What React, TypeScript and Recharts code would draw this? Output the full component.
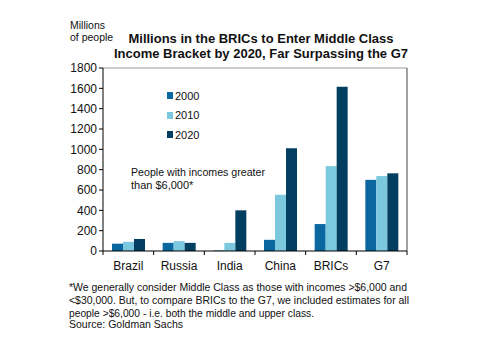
import React from "react"
import { BarChart, Bar, XAxis, YAxis, ReferenceLine } from "recharts"

const categories = ["Brazil", "Russia", "India", "China", "BRICs", "G7"]
const values2000 = [72, 80, 5, 110, 265, 700]
const values2010 = [90, 97, 80, 553, 835, 737]
const values2020 = [118, 80, 400, 1010, 1615, 764]
const yTicks = [0, 200, 400, 600, 800, 1000, 1200, 1400, 1600, 1800]

const seriesNames = ["2000", "2010", "2020"]
const seriesColors = ["#0A67A0", "#7CC8DE", "#013E60"]

const data = categories.map((name, i) => ({
  name,
  "2000": values2000[i],
  "2010": values2010[i],
  "2020": values2020[i],
}))

const font = "'Liberation Sans', Arial, sans-serif"

// x tick: label at the center, tick marks on the category boundaries
const CategoryTick = (props: any) => {
  const { x, y, payload, index } = props
  const half = payload && payload.offset ? payload.offset : 25.4
  const last = index === categories.length - 1
  return (
    <g>
      <line x1={x - half} x2={x - half} y1={y - 8} y2={y - 4} stroke="#000" />
      {last && <line x1={x + half} x2={x + half} y1={y - 8} y2={y - 4} stroke="#000" />}
      <text x={x} y={y + 11} textAnchor="middle" fontSize={12} fontFamily={font} fill="#111">
        {payload.value}
      </text>
    </g>
  )
}

const LegendBox = () => (
  <div style={{ position: "absolute", left: 167, top: 86, fontFamily: font, fontSize: 11, color: "#111" }}>
    {seriesNames.map((s, i) => (
      <div key={s} style={{ display: "flex", alignItems: "center", height: 19.5 }}>
        <span style={{ width: 6, height: 7, background: seriesColors[i], marginRight: 2 }} />
        {s}
      </div>
    ))}
  </div>
)

export default function App() {
  return (
    <div style={{ position: "fixed", left: 0, top: 0, width: 480, height: 361, background: "#fff" }}>
      <BarChart
        width={480}
        height={361}
        data={data}
        margin={{ top: 68, right: 72, bottom: 80, left: 0 }}
        barGap={0}
        barCategoryGap={9}
      >
        <YAxis
          width={103}
          domain={[0, 1800]}
          ticks={yTicks}
          interval={0}
          axisLine={{ stroke: "#000" }}
          tickLine={{ stroke: "#000" }}
          tickSize={4}
          tick={{ fontSize: 12, fontFamily: font, fill: "#111" }}
        />
        <YAxis
          yAxisId="right"
          orientation="right"
          width={1}
          tick={false}
          tickLine={false}
          axisLine={{ stroke: "#444" }}
        />
        <XAxis
          dataKey="name"
          height={30}
          interval={0}
          tickLine={false}
          axisLine={{ stroke: "#000" }}
          tick={<CategoryTick />}
        />
        <ReferenceLine y={1800} stroke="#999" />
        {seriesNames.map((s, i) => (
          <Bar key={s} dataKey={s} fill={seriesColors[i]} isAnimationActive={false} />
        ))}
      </BarChart>
      <LegendBox />
      <svg width={480} height={361} style={{ position: "absolute", left: 0, top: 0, pointerEvents: "none" }}>
        <g fontFamily={font} fill="#111">
          <text x={70} y={29} fontSize={10.5}>Millions</text>
          <text x={70} y={41} fontSize={10.5}>of people</text>
          <text x={261} y={43} fontSize={13} fontWeight="bold" textAnchor="middle">
            Millions in the BRICs to Enter Middle Class
          </text>
          <text x={261} y={58} fontSize={13} fontWeight="bold" textAnchor="middle">
            Income Bracket  by 2020, Far Surpassing the G7
          </text>
          <text x={131} y={176} fontSize={11} textLength={134} lengthAdjust="spacingAndGlyphs">
            People with incomes greater
          </text>
          <text x={131} y={189} fontSize={11}>than $6,000*</text>
          <text x={69} y={291} fontSize={11} textLength={338} lengthAdjust="spacingAndGlyphs">
            *We generally consider Middle Class as those with incomes &gt;$6,000 and
          </text>
          <text x={69} y={304} fontSize={11} textLength={340} lengthAdjust="spacingAndGlyphs">
            &lt;$30,000. But, to compare BRICs to the G7, we included estimates for all
          </text>
          <text x={69} y={317} fontSize={11} textLength={245} lengthAdjust="spacingAndGlyphs">
            people &gt;$6,000 - i.e. both the middle and upper class.
          </text>
          <text x={69} y={328} fontSize={11} textLength={114} lengthAdjust="spacingAndGlyphs">
            Source: Goldman Sachs
          </text>
        </g>
      </svg>
    </div>
  )
}
